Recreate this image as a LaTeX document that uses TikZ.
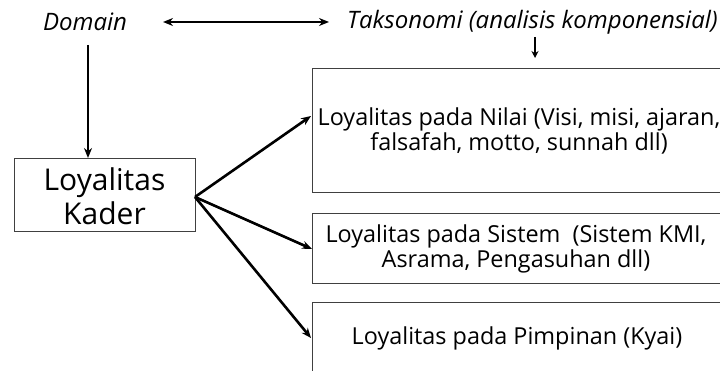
\documentclass[tikz,border=0pt]{standalone}
\usepackage{fontspec}
\setmainfont{Open Sans}
\usetikzlibrary{arrows.meta}
\begin{document}
\begin{tikzpicture}[x=1pt,y=-1pt,
  lbl/.style={font=\fontsize{24}{28}\selectfont\itshape, inner sep=0pt},
  boxtxt/.style={font=\fontsize{23.4}{25}\selectfont, align=center, inner sep=0pt},
  frame/.style={draw=black!75, line width=1pt},
  arr/.style={-{Stealth[length=10pt,width=8pt]}, line width=2.6pt}]
\useasboundingbox (0,0) rectangle (720,371);
\begin{scope}
\clip (0,0) rectangle (720,371);
\node[lbl] (dom) at (85,22) {Domain};
\node[lbl, anchor=west] (tak) at (347,22) {Taksonomi (analisis komponensial)};
\coordinate (dl) at (163,22);
\coordinate (dr) at (329,22);
\draw[{Stealth[length=10pt,width=8pt]}-{Stealth[length=10pt,width=8pt]}, line width=2.6pt] (dl) -- (dr);
\coordinate (tk) at (535,37);
\coordinate (tkend) at (535,58);
\draw[-{Stealth[length=7pt,width=7pt]}, line width=1.9pt] (tk) -- (tkend);

\node[frame, minimum width=181pt, minimum height=73pt, inner sep=0pt] (kader) at (104.5,195.5) {};
\node[font=\fontsize{30}{34}\selectfont, align=center, inner sep=0pt] (kadertxt) at (104.5,196) {Loyalitas\\Kader};
\coordinate (domtop) at (88,45);
\draw[arr] (domtop) -- (88,158);

\draw[frame] (312,69) rectangle (730,193);
\coordinate (b1) at (311,116);
\node[boxtxt] (t1) at (519,131) {Loyalitas pada Nilai (Visi, misi, ajaran,\\falsafah, motto, sunnah dll)};
\draw[frame] (312,214) rectangle (730,284);
\coordinate (b2) at (312,249);
\node[boxtxt] (t2) at (516,249) {Loyalitas pada Sistem~ (Sistem KMI,\\Asrama, Pengasuhan dll)};
\draw[frame] (312,303) rectangle (730,380);
\coordinate (b3) at (311,338);
\node[boxtxt] (t3) at (517,338) {Loyalitas pada Pimpinan (Kyai)};

\coordinate (ko) at (195,197);
\draw[arr] (ko) -- (b1);
\draw[arr] (ko) -- (b2);
\draw[arr] (ko) -- (b3);
\end{scope}
\end{tikzpicture}
\end{document}
